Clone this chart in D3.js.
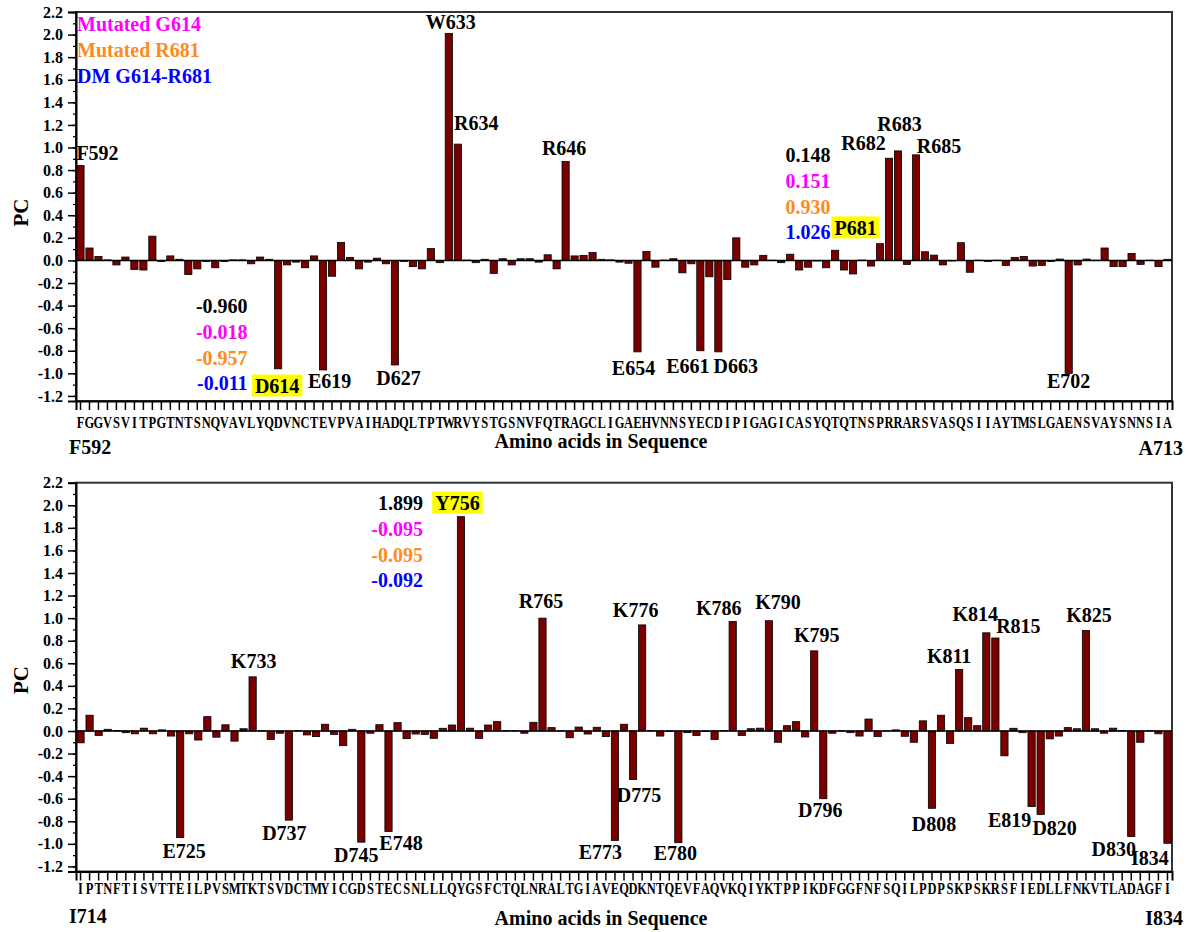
<!DOCTYPE html>
<html><head><meta charset="utf-8">
<script src="https://cdn.jsdelivr.net/npm/d3@7"></script>
<style>
body{margin:0;background:#fff}
</style>
</head><body>
<svg id="chart" width="1189" height="932" font-family="Liberation Serif" font-weight="bold"></svg>
<script>
// ---------------- DATA ----------------
const topResidues = d3.range(592, 714);
const topSequence = ("FGGVSVITPG" + "TNTSNQVAVL" + "YQDVNCTEVP" + "VAIHADQLTP" + "TWRVYSTGSN" +
  "VFQTRAGCLI" + "GAEHVNNSYE" + "CDIPIGAGIC" + "ASYQTQTNSP" + "RRARSVASQS" + "IIAYTMSLGA" +
  "ENSVAYSNNS" + "IA").split("");
const topValues = [
  0.84, 0.11, 0.035, 0.005, -0.04, 0.03, -0.08, -0.085, 0.215, -0.01,
  0.04, 0.01, -0.125, -0.075, -0.01, -0.065, -0.01, 0.005, 0.005, -0.03,
  0.03, 0.01, -0.96, -0.04, -0.015, -0.065, 0.04, -0.97, -0.14, 0.16,
  0.027, -0.075, -0.015, 0.02, -0.03, -0.926, -0.01, -0.055, -0.075, 0.105,
  -0.02, 2.01, 1.03, 0.003, -0.02, 0.01, -0.115, 0.015, -0.04, 0.015,
  0.015, -0.015, 0.05, -0.075, 0.876, 0.04, 0.045, 0.07, 0.01, 0.005,
  -0.015, -0.025, -0.81, 0.08, -0.06, 0.003, 0.015, -0.11, -0.03, -0.80,
  -0.145, -0.81, -0.17, 0.2, -0.06, -0.04, 0.045, 0.002, -0.02, 0.055,
  -0.085, -0.06, -0.005, -0.065, 0.09, -0.085, -0.12, 0.003, -0.05, 0.148,
  0.905, 0.97, -0.035, 0.935, 0.077, 0.047, -0.04, -0.005, 0.157, -0.105,
  0.002, -0.01, 0.002, -0.045, 0.027, 0.035, -0.05, -0.045, -0.01, 0.012,
  -1.0, -0.04, 0.012, 0.002, 0.11, -0.055, -0.055, 0.062, -0.035, 0.002,
  -0.055, 0.01
];
const bottomResidues = d3.range(714, 835);
const bottomSequence = ("IPTNFTISVT" + "TEILPVSMTK" + "TSVDCTMYIC" + "GDSTECSNLL" + "LQYGSFCTQL" +
  "NRALTGIAVE" + "QDKNTQEVFA" + "QVKQIYKTPP" + "IKDFGGFNFS" + "QILPDPSKPS" + "KRSFIEDLLF" +
  "NKVTLADAGF" + "I").split("");
const bottomValues = [
  -0.105, 0.14, -0.04, 0.015, 0.005, -0.015, -0.025, 0.025, -0.025, 0.01,
  -0.045, -0.945, -0.025, -0.08, 0.127, -0.055, 0.055, -0.09, 0.02, 0.48,
  0.003, -0.075, -0.02, -0.79, 0.003, -0.035, -0.05, 0.06, -0.03, -0.13,
  0.015, -0.985, -0.02, 0.056, -0.89, 0.074, -0.068, -0.027, -0.03, -0.065,
  0.024, 0.053, 1.899, 0.025, -0.065, 0.053, 0.083, 0.003, 0.003, -0.02,
  0.077, 1.0, 0.03, 0.002, -0.06, 0.035, -0.027, 0.033, -0.05, -0.97,
  0.06, -0.43, 0.94, 0.002, -0.045, -0.005, -0.99, -0.015, -0.04, -0.005,
  -0.075, 0.003, 0.97, -0.04, 0.02, 0.025, 0.977, -0.1, 0.047, 0.083,
  -0.053, 0.71, -0.6, -0.02, 0.002, -0.015, -0.045, 0.106, -0.05, 0.002,
  0.01, -0.047, -0.1, 0.09, -0.685, 0.14, -0.11, 0.545, 0.118, 0.047,
  0.87, 0.824, -0.22, 0.024, -0.015, -0.67, -0.74, -0.07, -0.045, 0.03,
  0.02, 0.89, 0.02, -0.02, 0.025, 0.005, -0.935, -0.1, 0.002, -0.025,
  -0.995
];
const yTickValues = d3.range(-12, 23, 2).map(v => v / 10);
const yMinorTickValues = d3.range(-12, 23, 1).map(v => v / 10);
const legendLabels = ["Mutated G614", "Mutated R681", "DM G614-R681"];
const stackD614 = ["-0.960", "-0.018", "-0.957", "-0.011"];
const stackP681 = ["0.148", "0.151", "0.930", "1.026"];
const stackY756 = ["1.899", "-0.095", "-0.095", "-0.092"];
const topPeakResidues = [592, 633, 634, 646, 654, 661, 663, 681, 682, 683, 685, 702, 614, 619, 627];
const bottomPeakResidues = [733, 725, 737, 745, 748, 756, 765, 776, 775, 773, 780, 786, 790, 795, 796,
  808, 811, 814, 815, 819, 820, 825, 830, 834];
const highlightedResidues = [614, 681, 756];
const yAxisTitle = "PC";
const xAxisTitle = "Amino acids in Sequence";

// ---------------- LAYOUT ----------------
const FONT = "'Liberation Serif', 'Times New Roman', 'DejaVu Serif', serif";
const stackColors = ["#000000", "#ff00ff", "#ff8a1e", "#0000ff"];
const legendColors = ["#ff00ff", "#ff8a1e", "#0000ff"];
const barFill = "#7a0000";
// label placement: [dx from bar centre (px), baseline in PC units]
const topLabelPos = {
  592: [17, 0.89], 633: [2, 2.05], 634: [18.5, 1.156], 646: [-1.5, 0.934], 654: [-4, -1.014],
  661: [-12.5, -0.996], 663: [17.5, -0.996], 681: [-24.5, 0.226], 682: [-25.5, 0.979],
  683: [1.5, 1.147], 685: [23, 0.952], 702: [0, -1.129], 614: [-1, -1.174], 619: [6.5, -1.129],
  627: [3.5, -1.103]
};
const bottomLabelPos = {
  733: [1, 0.558], 725: [4, -1.125], 737: [-4.5, -0.966], 745: [-5, -1.161], 748: [12.5, -1.054],
  756: [-3.5, 1.958], 765: [-1.5, 1.09], 776: [-6.5, 1.01], 775: [6, -0.629], 773: [-14.5, -1.134],
  780: [-3, -1.143], 786: [-14, 1.028], 790: [9, 1.081], 795: [2.5, 0.789], 796: [-3, -0.762],
  808: [2, -0.886], 811: [-10, 0.603], 814: [-11, 0.975], 815: [23, 0.868], 819: [-22, -0.851],
  820: [14, -0.921], 825: [3, 0.966], 830: [-17.5, -1.108], 834: [-17.5, -1.187]
};

const panels = [
  { residues: topResidues, seq: topSequence, values: topValues, top: 12, bottom: 401,
    letterDy: 27, startDy: 53, titleDy: 47, endDy: 54, pcY: 212.5,
    peaks: topPeakResidues, labelPos: topLabelPos, legend: true,
    stacks: [{ res: 614, dx: -30.5, y: -0.465, texts: stackD614 },
             { res: 681, dx: -49.5, y: 0.872, texts: stackP681 }] },
  { residues: bottomResidues, seq: bottomSequence, values: bottomValues, top: 482.7, bottom: 871.5,
    letterDy: 22, startDy: 51.5, titleDy: 53.5, endDy: 53.5, pcY: 680,
    peaks: bottomPeakResidues, labelPos: bottomLabelPos, legend: false,
    stacks: [{ res: 756, dx: -38, y: 1.958, texts: stackY756 }] }
];

const left = 76, right = 1172;
const svg = d3.select("#chart");
const fmt = v => v.toFixed(1);
const styleText = sel => sel.style("font-family", FONT).style("font-weight", "bold");

panels.forEach(p => {
  const g = svg.append("g");
  const x = d3.scaleBand().domain(p.residues).range([left, right]).paddingInner(0.2).paddingOuter(0.1);
  const y = d3.scaleLinear().domain([-1.245, 2.2]).range([p.bottom, p.top]);
  const cx = r => x(r) + x.bandwidth() / 2;
  const seqOf = r => p.seq[p.residues.indexOf(r)];

  // frame
  g.append("rect").attr("x", left).attr("y", p.top).attr("width", right - left)
    .attr("height", p.bottom - p.top).attr("fill", "none").attr("stroke", "#333").attr("stroke-width", 2);

  // y axis
  const ya = g.append("g").attr("transform", `translate(${left},0)`)
    .call(d3.axisLeft(y).tickValues(yTickValues).tickFormat(fmt).tickSize(8).tickPadding(5));
  ya.attr("font-family", null).attr("font-size", null);
  ya.select(".domain").attr("stroke", "#000").attr("stroke-width", 2);
  ya.selectAll(".tick line").attr("stroke-width", 1.5);
  ya.selectAll(".tick text").style("font-size", "16px").attr("fill", "#000");
  const ym = g.append("g").attr("transform", `translate(${left},0)`)
    .call(d3.axisLeft(y).tickValues(yMinorTickValues).tickFormat("").tickSize(3));
  ym.select(".domain").remove();
  ym.selectAll(".tick line").attr("stroke-width", 1.3);

  // x axis
  const xa = g.append("g").attr("transform", `translate(0,${p.bottom})`)
    .call(d3.axisBottom(x).tickFormat("").tickSize(9));
  xa.select(".domain").attr("stroke", "#000").attr("stroke-width", 2);
  xa.selectAll(".tick line").attr("stroke-width", 1.5);

  // sequence letters
  g.append("g").selectAll("text").data(p.residues).join("text")
    .attr("transform", r => `translate(${cx(r)},${p.bottom + p.letterDy}) scale(0.78,1)`)
    .attr("text-anchor", "middle").style("font-size", "16px").text(r => seqOf(r));

  // bars
  g.append("g").selectAll("rect").data(p.residues.map((r, i) => ({ r, v: p.values[i] }))).join("rect")
    .attr("x", d => x(d.r)).attr("width", x.bandwidth())
    .attr("y", d => y(Math.max(0, d.v))).attr("height", d => Math.abs(y(d.v) - y(0)))
    .attr("fill", barFill).attr("stroke", "#000").attr("stroke-width", 0.8);

  // zero line
  g.append("line").attr("x1", left).attr("x2", right).attr("y1", y(0)).attr("y2", y(0))
    .attr("stroke", "#000").attr("stroke-width", 1.5);

  // peak labels
  p.peaks.forEach(r => {
    const [dx, ly] = p.labelPos[r];
    const t = g.append("text").attr("x", cx(r) + dx).attr("y", y(ly)).attr("text-anchor", "middle")
      .style("font-size", "20px").attr("fill", "#000").text(seqOf(r) + r).call(styleText);
    if (highlightedResidues.includes(r)) {
      const b = t.node().getBBox();
      g.insert("rect", () => t.node()).attr("x", b.x - 3).attr("y", b.y - 0.5)
        .attr("width", b.width + 6).attr("height", b.height).attr("fill", "#ffff00");
    }
  });

  // value stacks
  p.stacks.forEach(s => {
    s.texts.forEach((txt, k) => {
      g.append("text").attr("x", cx(s.res) + s.dx).attr("y", y(s.y) + k * 25.8)
        .attr("text-anchor", "end").style("font-size", "20px").attr("fill", stackColors[k]).text(txt);
    });
  });

  // legend
  if (p.legend) {
    legendLabels.forEach((l, k) => {
      g.append("text").attr("x", left + 1).attr("y", p.top + 19 + k * 26)
        .style("font-size", "20px").attr("fill", legendColors[k]).text(l);
    });
  }

  // axis titles
  g.append("text").attr("transform", `translate(28,${p.pcY}) rotate(-90)`).attr("text-anchor", "middle")
    .style("font-size", "21px").text(yAxisTitle);
  g.append("text").attr("x", 601).attr("y", p.bottom + p.titleDy).attr("text-anchor", "middle")
    .style("font-size", "20px").text(xAxisTitle);
  const first = p.residues[0], last = p.residues[p.residues.length - 1];
  g.append("text").attr("x", 69).attr("y", p.bottom + p.startDy).style("font-size", "20px").text(seqOf(first) + first);
  g.append("text").attr("x", 1183).attr("y", p.bottom + p.endDy).attr("text-anchor", "end")
    .style("font-size", "20px").text(seqOf(last) + last);
});
svg.selectAll("text").call(styleText);
</script>
</body></html>
